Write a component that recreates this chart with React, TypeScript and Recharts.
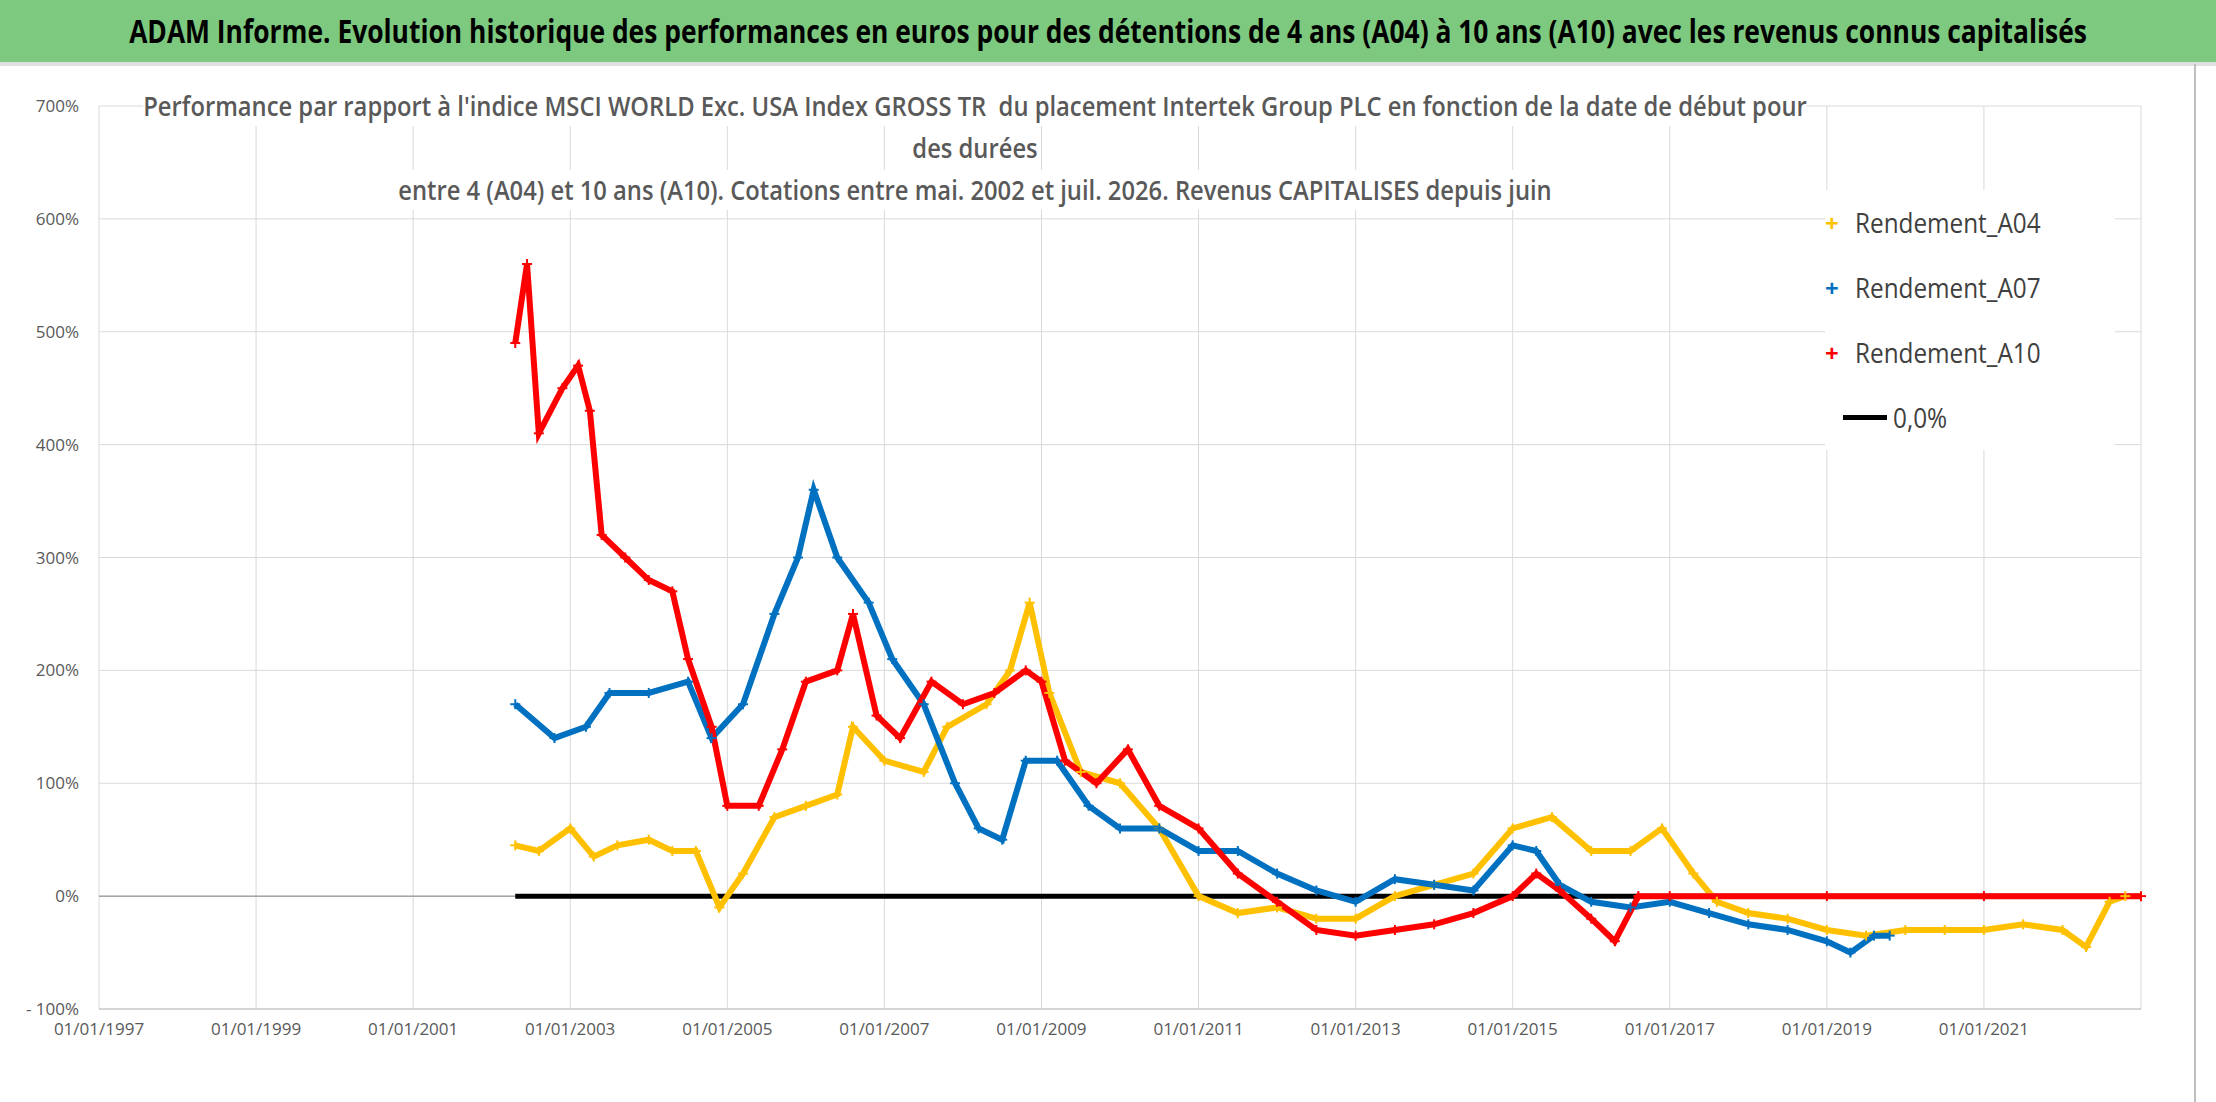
import React from 'react'
import { ComposedChart, Line, XAxis, YAxis, CartesianGrid, ReferenceLine } from 'recharts'

const xTicks = [1997, 1999, 2001, 2003, 2005, 2007, 2009, 2011, 2013, 2015, 2017, 2019, 2021]
const yTicks = [-100, 0, 100, 200, 300, 400, 500, 600, 700]

const a04Years = [2002.3, 2002.6, 2003.0, 2003.3, 2003.6, 2004.0, 2004.3, 2004.6, 2004.9, 2005.2, 2005.6, 2006.0, 2006.4, 2006.6, 2007.0, 2007.5, 2007.8, 2008.3, 2008.6, 2008.85, 2009.1, 2009.5, 2010.0, 2010.5, 2011.0, 2011.5, 2012.0, 2012.5, 2013.0, 2013.5, 2014.0, 2014.5, 2015.0, 2015.5, 2016.0, 2016.5, 2016.9, 2017.3, 2017.6, 2018.0, 2018.5, 2019.0, 2019.5, 2020.0, 2020.5, 2021.0, 2021.5, 2022.0, 2022.3, 2022.6, 2022.8]
const a04Values = [45, 40, 60, 35, 45, 50, 40, 40, -10, 20, 70, 80, 90, 150, 120, 110, 150, 170, 200, 260, 180, 110, 100, 60, 0, -15, -10, -20, -20, 0, 10, 20, 60, 70, 40, 40, 60, 20, -5, -15, -20, -30, -35, -30, -30, -30, -25, -30, -45, -5, 0]

const a07Years = [2002.3, 2002.8, 2003.2, 2003.5, 2004.0, 2004.5, 2004.8, 2005.2, 2005.6, 2005.9, 2006.1, 2006.4, 2006.8, 2007.1, 2007.5, 2007.9, 2008.2, 2008.5, 2008.8, 2009.2, 2009.6, 2010.0, 2010.5, 2011.0, 2011.5, 2012.0, 2012.5, 2013.0, 2013.5, 2014.0, 2014.5, 2015.0, 2015.3, 2015.6, 2016.0, 2016.5, 2017.0, 2017.5, 2018.0, 2018.5, 2019.0, 2019.3, 2019.6, 2019.8]
const a07Values = [170, 140, 150, 180, 180, 190, 140, 170, 250, 300, 360, 300, 260, 210, 170, 100, 60, 50, 120, 120, 80, 60, 60, 40, 40, 20, 5, -5, 15, 10, 5, 45, 40, 10, -5, -10, -5, -15, -25, -30, -40, -50, -35, -35]

const a10Years = [2002.3, 2002.45, 2002.6, 2002.9, 2003.1, 2003.25, 2003.4, 2003.7, 2004.0, 2004.3, 2004.5, 2004.8, 2005.0, 2005.4, 2005.7, 2006.0, 2006.4, 2006.6, 2006.9, 2007.2, 2007.6, 2008.0, 2008.4, 2008.8, 2009.0, 2009.3, 2009.7, 2010.1, 2010.5, 2011.0, 2011.5, 2012.0, 2012.5, 2013.0, 2013.5, 2014.0, 2014.5, 2015.0, 2015.3, 2015.6, 2016.0, 2016.3, 2016.6, 2017.0, 2019.0, 2021.0, 2023.0]
const a10Values = [490, 560, 410, 450, 470, 430, 320, 300, 280, 270, 210, 150, 80, 80, 130, 190, 200, 250, 160, 140, 190, 170, 180, 200, 190, 120, 100, 130, 80, 60, 20, -5, -30, -35, -30, -25, -15, 0, 20, 5, -20, -40, 0, 0, 0, 0, 0]

const zeroYears = [2002.3, 2023.0]
const zeroValues = [0, 0]

const toData = (xs: number[], ys: number[]) => xs.map((x, i) => ({ x, y: ys[i] }))

const Cross = (props: any) => {
  const { cx, cy, stroke } = props
  if (cx == null || cy == null) return null
  return (
    <g stroke={stroke} strokeWidth={2}>
      <line x1={cx - 5} x2={cx + 5} y1={cy} y2={cy} />
      <line x1={cx} x2={cx} y1={cy - 5} y2={cy + 5} />
    </g>
  )
}

const FONT = '"Open Sans", "Noto Sans", sans-serif'

const series = [
  { name: 'Rendement_A04', color: '#FFC000', data: toData(a04Years, a04Values) },
  { name: 'Rendement_A07', color: '#0070C0', data: toData(a07Years, a07Values) },
  { name: 'Rendement_A10', color: '#FF0000', data: toData(a10Years, a10Values) },
]

// centred line of text squeezed horizontally around cx
const Squeezed = ({ cx, top, k, style, children }: any) => (
  <div style={{ position: 'absolute', left: cx, top, whiteSpace: 'nowrap', transform: `translateX(-50%) scaleX(${k})`, ...style }}>
    {children}
  </div>
)

export default function App() {
  return (
    <div style={{ position: 'absolute', left: 0, top: 0, width: 2216, height: 1102, background: '#fff', fontFamily: FONT, overflow: 'hidden' }}>
      <ComposedChart width={2216} height={1102} margin={{ top: 106, right: 75, bottom: 63, left: 0 }}>
        <CartesianGrid stroke="#d9d9d9" />
        <XAxis type="number" dataKey="x" domain={[1997, 2023]} ticks={xTicks} allowDuplicatedCategory={false}
          tickFormatter={(v: number) => `01/01/${v}`} tick={{ fill: '#595959', fontSize: 17, fontFamily: FONT, dy: 6 }}
          axisLine={{ stroke: '#bfbfbf' }} tickLine={false} />
        <YAxis type="number" domain={[-100, 700]} ticks={yTicks} width={99}
          tickFormatter={(v: number) => (v < 0 ? `- ${-v}%` : `${v}%`)}
          tick={{ fill: '#595959', fontSize: 17, fontFamily: FONT, dx: -12 }} axisLine={false} tickLine={false} />
        <ReferenceLine y={0} stroke="#a6a6a6" strokeWidth={1.5} />
        <Line data={toData(zeroYears, zeroValues)} dataKey="y" stroke="#000" strokeWidth={5} dot={false} isAnimationActive={false} />
        {series.map(s => (
          <Line key={s.name} data={s.data} dataKey="y" name={s.name} stroke={s.color} strokeWidth={6}
            dot={<Cross stroke={s.color} />} isAnimationActive={false} />
        ))}
      </ComposedChart>

      <div style={{ position: 'absolute', left: 0, top: 0, width: 2216, height: 62, background: '#7DC97F', borderBottom: '4px solid #e0e0e0' }} />
      <Squeezed cx={1108} top={0} k={0.8} style={{ fontSize: 33, fontWeight: 'bold', lineHeight: '62px', color: '#000' }}>
        ADAM Informe. Evolution historique des performances en euros pour des détentions de 4 ans (A04) à 10 ans (A10) avec les revenus connus capitalisés
      </Squeezed>
      <div style={{ position: 'absolute', left: 2194, top: 64, width: 2, height: 1038, background: '#bfbfbf' }} />

      {[
        "Performance par rapport à l'indice MSCI WORLD Exc. USA Index GROSS TR\u00a0 du placement Intertek Group PLC en fonction de la date de début pour",
        'des durées',
        'entre 4 (A04) et 10 ans (A10). Cotations entre mai. 2002 et juil. 2026. Revenus CAPITALISES depuis juin',
      ].map((t, i) => (
        <Squeezed key={i} cx={975} top={86 + i * 42} k={0.88}
          style={{ fontSize: 27, fontWeight: 600, lineHeight: '40px', color: '#595959', background: '#fff' }}>
          {t}
        </Squeezed>
      ))}

      <div style={{ position: 'absolute', left: 1825, top: 190, width: 290, background: '#fff', fontSize: 27, color: '#404040', lineHeight: '65px' }}>
        {series.map(s => (
          <div key={s.name} style={{ display: 'flex', alignItems: 'center' }}>
            <span style={{ color: s.color, fontSize: 24, width: 30, fontWeight: 'bold' }}>+</span>
            <span style={{ transform: 'scaleX(0.9)', transformOrigin: 'left' }}>{s.name}</span>
          </div>
        ))}
        <div style={{ display: 'flex', alignItems: 'center' }}>
          <span style={{ display: 'inline-block', width: 44, height: 5, background: '#000', marginRight: 6, marginLeft: 18 }} />
          <span style={{ transform: 'scaleX(0.9)', transformOrigin: 'left' }}>0,0%</span>
        </div>
      </div>
    </div>
  )
}
